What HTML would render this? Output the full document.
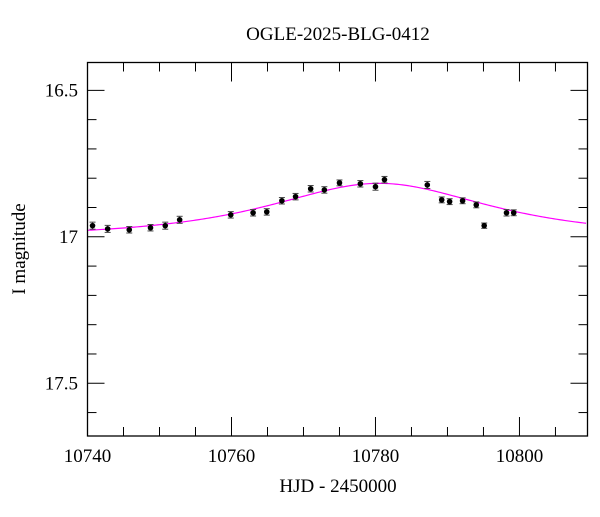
<!DOCTYPE html>
<html><head><meta charset="utf-8"><style>
body{margin:0;background:#fff;}
svg text{font-family:"Liberation Serif",serif;fill:#000;}
</style></head><body>
<svg id="chart" width="600" height="512" viewBox="0 0 600 512" xmlns="http://www.w3.org/2000/svg">
<text x="338" y="40" font-size="19" text-anchor="middle">OGLE-2025-BLG-0412</text>
<g id="grid"></g>
<g id="model"></g>
<g id="points"></g>
<rect x="87.5" y="62.5" width="500" height="373.5" fill="none" stroke="#000" stroke-width="1.3"/>
<text x="338" y="492" font-size="19" text-anchor="middle">HJD - 2450000</text>
<text transform="translate(25,249) rotate(-90)" font-size="19" text-anchor="middle">I magnitude</text>
</svg>
<script>
const times=[10740.7,10742.8,10745.8,10748.75,10750.8,10752.8,10759.9,10763,10764.9,10767,10768.9,10771,10772.9,10775,10777.9,10780,10781.25,10787.2,10789.2,10790.3,10792.1,10794,10795.1,10798.2,10799.2];
const mags=[16.962,16.973,16.976,16.969,16.962,16.942,16.925,16.918,16.915,16.877,16.863,16.836,16.840,16.816,16.819,16.829,16.805,16.823,16.874,16.880,16.877,16.891,16.962,16.918,16.918];
const errs=[0.012,0.012,0.011,0.011,0.012,0.012,0.011,0.011,0.011,0.011,0.011,0.011,0.011,0.010,0.011,0.012,0.011,0.012,0.010,0.010,0.010,0.010,0.009,0.011,0.010];
const xTicks=[10740,10760,10780,10800];
const yTicks=[16.5,17,17.5];
const modelT0=10780.5, modelTE=22, modelU0=0.8, modelBase=17.0, modelFs=0.344;

const X0=87.5,X1=587.5,Y0=62.5,Y1=436;
const xMin=10740,xMax=10809.45,yMin=16.405,yMax=17.68;
const sx=t=>X0+(t-xMin)/(xMax-xMin)*(X1-X0);
const sy=m=>Y0+(m-yMin)/(yMax-yMin)*(Y1-Y0);
const NS="http://www.w3.org/2000/svg";
const svg=document.getElementById('chart');
const grid=document.getElementById('grid');
function mk(tag,attrs,parent){const e=document.createElementNS(NS,tag);for(const k in attrs)e.setAttribute(k,attrs[k]);parent.appendChild(e);return e;}
for(let t=10745;t<xMax;t+=5){
  const major=(t-10740)%20===0; const L=major?19:9; const x=sx(t);
  const a=mk('line',{x1:x,x2:x,y1:Y1,y2:Y1-L,stroke:'#000','stroke-width':1},grid);
  
  
  const b=mk('line',{x1:x,x2:x,y1:Y0,y2:Y0+L,stroke:'#000','stroke-width':1},grid);
  
  
}
xTicks.forEach(t=>{
  const tx=mk('text',{x:sx(t),y:462,'font-size':19,'text-anchor':'middle'},svg);
  tx.textContent=t;
  
  
});
for(let i=5;i<=16;i++){
  const m=16+i*0.1; if(m<yMin||m>yMax) continue;
  const major=i%5===0; const L=major?17:9; const y=sy(m);
  const a=mk('line',{x1:X0,x2:X0+L,y1:y,y2:y,stroke:'#000','stroke-width':1},grid);
  
  
  const b=mk('line',{x1:X1,x2:X1-L,y1:y,y2:y,stroke:'#000','stroke-width':1},grid);
  
  
}
yTicks.forEach(m=>{
  const tx=mk('text',{x:78,y:sy(m)+6,'font-size':19,'text-anchor':'end'},svg);
  tx.textContent=String(m);
  
  
});
function modelMag(t){const tau=(t-modelT0)/modelTE;const u=Math.sqrt(modelU0*modelU0+tau*tau);const A=(u*u+2)/(u*Math.sqrt(u*u+4));return modelBase-2.5*Math.log10(1+modelFs*(A-1));}
let d='';
for(let t=xMin;t<=xMax;t+=0.25){d+=(d?'L':'M')+sx(t).toFixed(2)+','+sy(modelMag(t)).toFixed(2);}
const p=mk('path',{d:d,fill:'none',stroke:'#ff00ff','stroke-width':1.2},document.getElementById('model'));


const pg=document.getElementById('points');
times.forEach((t,i)=>{
  const x=sx(t),y=sy(mags[i]),ya=sy(mags[i]-errs[i]),yb=sy(mags[i]+errs[i]);
  const g=mk('g',{},pg);
  
  
  mk('line',{x1:x,x2:x,y1:ya,y2:yb,stroke:'#444','stroke-width':1},g);
  mk('line',{x1:x-3,x2:x+3,y1:ya,y2:ya,stroke:'#444','stroke-width':1},g);
  mk('line',{x1:x-3,x2:x+3,y1:yb,y2:yb,stroke:'#444','stroke-width':1},g);
  mk('circle',{cx:x,cy:y,r:2.8,fill:'#000'},g);
});
</script>
</body></html>
